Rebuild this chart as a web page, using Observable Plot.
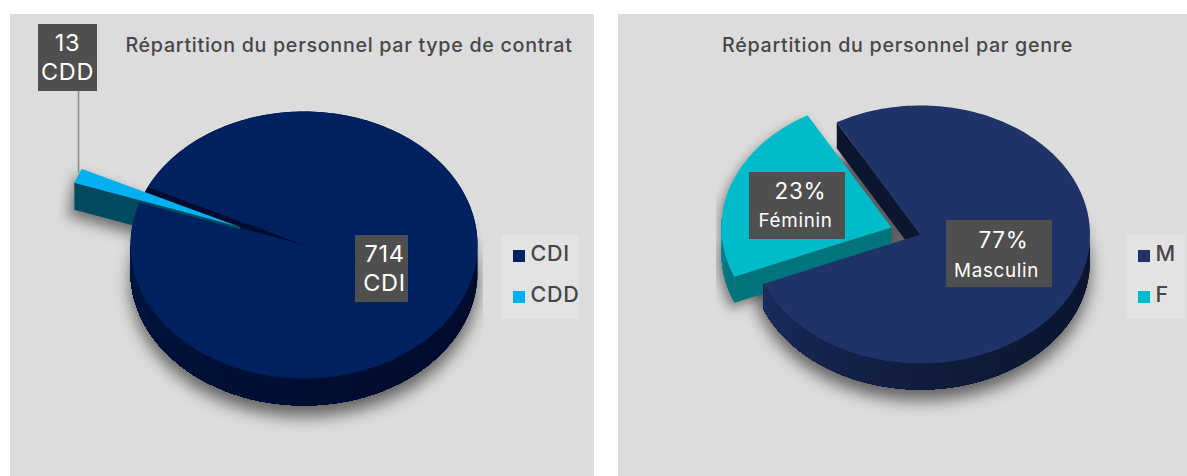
<!DOCTYPE html>
<html>
<head>
<meta charset="utf-8">
<style>html,body{margin:0;padding:0;background:#fff;overflow:hidden}svg{display:block}</style>
<script src="https://cdn.jsdelivr.net/npm/d3@7"></script>
<script src="https://cdn.jsdelivr.net/npm/@observablehq/plot@0.6"></script>
</head>
<body>
<div id="chart"></div>
<script>
// ---- data ----
const contratCategories = ["CDI", "CDD"];
const contratValues = [714, 13];
const genreCategories = ["M", "F"];
const genreValues = [77, 23];
const titles = ["Répartition du personnel par type de contrat", "Répartition du personnel par genre"];
const contratLabels = [["714", "CDI"], ["13", "CDD"]];
const genreLabels = [["77%", "Masculin"], ["23%", "Féminin"]];

// ---- layout ----
const W = 1187, H = 476;
const FONT = "Inter, 'Open Sans', sans-serif";
const PANEL = "#dcdcdc", LEGEND_BG = "#e3e3e3", BOX = "#4f4f4f", INK = "#474747";
const DEPTH = 27;

const rad = d => d * Math.PI / 180;
// angle measured clockwise from 12 o'clock on an elliptical (tilted) pie
const pt = (p, a, dy = 0) => [p.cx + p.rx * Math.sin(rad(a)), p.cy + dy - p.ry * Math.cos(rad(a))];
const arc = (p, a0, a1, dy = 0) => {
  const n = Math.max(2, Math.ceil(Math.abs(a1 - a0) / 1.5));
  return d3.range(n + 1).map(i => pt(p, a0 + (a1 - a0) * i / n, dy));
};
const sector = (p, a0, a1) => [[p.cx, p.cy], ...arc(p, a0, a1)];
const sweeps = (values, start) => {
  const total = d3.sum(values);
  let a = start;
  return values.map(v => { const s = [a, a + 360 * v / total]; a = s[1]; return s; });
};
const shift = (p, dx, dy) => ({...p, cx: p.cx + dx, cy: p.cy + dy});

const poly = (points, fill, extra = {}) =>
  Plot.line(points, {curve: "linear-closed", fill, stroke: "none", ...extra});
const box = (x1, x2, y1, y2, fill) =>
  Plot.rect([0], {x1: () => x1, x2: () => x2, y1: () => y1, y2: () => y2, fill});
const label = (text, x, y, size, fill = "#fff", anchor = "middle") =>
  Plot.text([text], {x: () => x, y: () => y, text: d => d, fontSize: size, fill, textAnchor: anchor,
    fontFamily: FONT, fontWeight: fill === "#fff" ? 400 : 500, lineAnchor: "middle"});

// curved wall: each pass repaints the rest of the arc, so the shade varies with no seams
function wall(p, a0, a1, c0, c1, depth = DEPTH) {
  const step = 3, marks = [];
  const color = d3.interpolateRgb(c0, c1);
  for (let a = a0; a < a1; a += step) {
    const c = color(d3.easeQuadIn((a - a0) / (a1 - a0)));
    marks.push(poly([...arc(p, a, a1), ...arc(p, a1, a, depth)], c));
  }
  return marks;
}
const flatWall = (p, a, fill, depth = DEPTH) => {
  const o = pt(p, a);
  return poly([[p.cx, p.cy], o, [o[0], o[1] + depth], [p.cx, p.cy + depth]], fill);
};

// ---- left pie: contract type ----
const C = {cx: 303.5, cy: 244.5, rx: 173.5, ry: 133.5};
const CDDpie = {cx: 239.5, cy: 226.5, rx: 175.5, ry: 133.5};
const [cdi, cdd] = sweeps(contratValues, 295.8);
const cdiFill = "#00215f", cddFill = "#00b0f0";

const leftPie = [
  poly(arc(shift(C, 0, DEPTH + 11), 0, 360), "#000", {imageFilter: "blur(8px)", fillOpacity: 0.55}),
  poly([pt(CDDpie, cdd[0], DEPTH + 6), pt(CDDpie, cdd[1], 6), [CDDpie.cx, CDDpie.cy + 6], [CDDpie.cx, CDDpie.cy + DEPTH + 8]].map(([x, y]) => [x - 6, y]), "#000",
    {imageFilter: "blur(7px)", fillOpacity: 0.5}),
  box(483, 500, 150, 345, PANEL),
  box(44, 59, 150, 260, PANEL),
  poly(arc(C, 0, 360), "#000c2e"),
  ...wall(C, 90, 270, "#000c2e", "#001540"),
  flatWall(CDDpie, cdd[0], "#004a60"),
  poly(sector(C, cdi[0], cdi[1]), cdiFill),
  flatWall(CDDpie, cdd[0], "#004a60", 2.5),
  poly(sector(CDDpie, cdd[0], cdd[1]), cddFill)
];

// ---- right pie: gender ----
const G = {cx: 920, cy: 234, rx: 169.5, ry: 129};
const Fpie = {cx: 891, cy: 227, rx: 170, ry: 129};
const [genreM, genreF] = sweeps(genreValues, 330.4);
const [f0, f1] = genreF.map(a => a - 360);   // same slice, first turn
const mFill = "#1f3368", fFill = "#00bccb";
const gDepth = 26;

const rightPie = [
  poly(arc(shift(G, 0, gDepth + 11), 0, 360), "#000", {imageFilter: "blur(8px)", fillOpacity: 0.55}),
  poly([[Fpie.cx, Fpie.cy + 8], ...arc(shift(Fpie, -3, gDepth + 6), f0, 280), ...arc(shift(Fpie, -3, 6), 280, f1)], "#000",
    {imageFilter: "blur(6px)", fillOpacity: 0.45}),
  box(698, 716, 170, 345, PANEL),
  flatWall(Fpie, f0, "#00747d", gDepth),
  ...wall(Fpie, f0, 274, "#00747d", "#00a0af", gDepth),
  poly(sector(Fpie, f0, f1), fFill),
  flatWall(G, genreM[0], "#0c1630", gDepth),
  ...wall(G, 90, genreM[1] - 360, "#0b1630", "#1b2c5e", gDepth),
  poly(sector(G, genreM[0], genreM[1]), mFill)
];

// ---- legends ----
function legend(cats, colors, bg, swX, textX) {
  const ys = [254, 295];
  return [
    box(bg[0], bg[1], 235, 319, LEGEND_BG),
    ...cats.flatMap((c, i) => [
      box(swX, swX + 12, ys[i] - 4, ys[i] + 8, colors[i]),
      label(c, textX, ys[i], 21.5, INK, "start")
    ])
  ];
}

const chart = Plot.plot({
  width: W, height: H,
  margin: 0,
  x: {type: "identity", axis: null},
  y: {type: "identity", axis: null},
  style: {background: "#fff", fontFamily: FONT, letterSpacing: "0.7px"},
  marks: [
    box(10, 594, 14, 476, PANEL),
    box(618, W, 14, 476, PANEL),
    ...leftPie,
    ...rightPie,

    label(titles[0], 348.5, 45, 19.7, INK),
    label(titles[1], 897, 45, 19.7, INK),

    Plot.ruleX([78], {y1: () => 91, y2: () => 173, stroke: "#8a8a8a", strokeWidth: 1.5}),
    box(38, 97, 24, 91, BOX),
    label(contratLabels[1][0], 67, 43, 23.5),
    label(contratLabels[1][1], 67, 72, 23.5),
    box(355, 408, 235, 302, BOX),
    label(contratLabels[0][0], 384, 254, 23.5),
    label(contratLabels[0][1], 384, 283, 23.5),

    box(749, 845, 172, 239, BOX),
    label(genreLabels[1][0], 800, 191, 22.5),
    label(genreLabels[1][1], 795, 220, 18.8),
    box(946, 1052, 220, 287, BOX),
    label(genreLabels[0][0], 1003, 240, 22.5),
    label(genreLabels[0][1], 996, 270, 18.8),

    ...legend(contratCategories, [cdiFill, cddFill], [501, 579], 513, 530),
    ...legend(genreCategories, [mFill, fFill], [1127, 1185], 1138, 1155)
  ]
});
document.getElementById("chart").appendChild(chart);
</script>
</body>
</html>
